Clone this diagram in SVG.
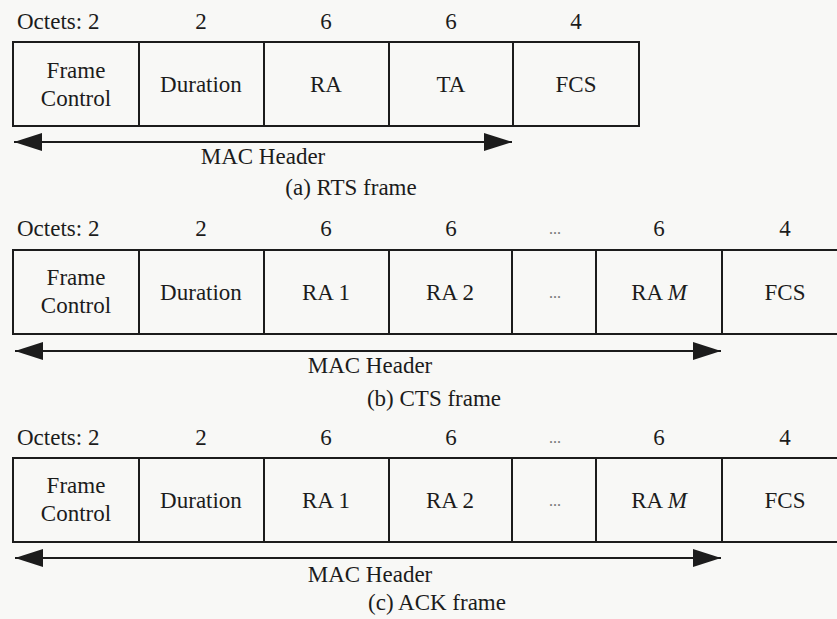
<svg xmlns="http://www.w3.org/2000/svg" width="837" height="619" viewBox="0 0 837 619">
<defs>
<style>
.bg{fill:#f8f8f6}
.cell{fill:none;stroke:#1c1c1c;stroke-width:2}
.t{font-family:'Liberation Serif','DejaVu Serif',serif;font-size:23px;fill:#1c1c1c;text-anchor:middle}
.tl{font-family:'Liberation Serif','DejaVu Serif',serif;font-size:23px;fill:#1c1c1c}
.dots{font-family:'Liberation Serif','DejaVu Serif',serif;font-size:16px;fill:#777;text-anchor:middle}
.arr{stroke:#1c1c1c;stroke-width:2;fill:none;marker-start:url(#ah);marker-end:url(#ah)}
</style>
<marker id="ah" markerUnits="userSpaceOnUse" markerWidth="30" markerHeight="20" refX="28" refY="9" orient="auto-start-reverse" viewBox="0 0 30 20">
<path d="M0,0 L28,9 L0,18 Z" fill="#1c1c1c"/>
</marker>
</defs>
<rect class="bg" x="0" y="0" width="837" height="619"/>

<!-- (a) RTS frame -->
<g id="rts">
<text class="tl" x="17" y="29">Octets: 2</text>
<text class="t" x="201" y="29">2</text>
<text class="t" x="326" y="29">6</text>
<text class="t" x="451" y="29">6</text>
<text class="t" x="576" y="29">4</text>
<g id="rts-fc"><rect class="cell" x="13" y="42" width="126" height="84"/><text class="t" x="76" y="78">Frame</text><text class="t" x="76" y="106">Control</text></g>
<g id="rts-dur"><rect class="cell" x="139" y="42" width="125" height="84"/><text class="t" x="201" y="92">Duration</text></g>
<g id="rts-ra"><rect class="cell" x="264" y="42" width="125" height="84"/><text class="t" x="326" y="92">RA</text></g>
<g id="rts-ta"><rect class="cell" x="389" y="42" width="124" height="84"/><text class="t" x="451" y="92">TA</text></g>
<g id="rts-fcs"><rect class="cell" x="513" y="42" width="126" height="84"/><text class="t" x="576" y="92">FCS</text></g>
<text class="t" x="263" y="164">MAC Header</text>
<text class="t" x="351" y="195">(a) RTS frame</text>
</g>

<!-- (b) CTS frame -->
<g id="cts">
<text class="tl" x="17" y="236">Octets: 2</text>
<text class="t" x="201" y="236">2</text>
<text class="t" x="326" y="236">6</text>
<text class="t" x="451" y="236">6</text>
<text class="dots" x="555" y="234">...</text>
<text class="t" x="659" y="236">6</text>
<text class="t" x="785" y="236">4</text>
<g id="cts-fc"><rect class="cell" x="13" y="250" width="126" height="84"/><text class="t" x="76" y="285">Frame</text><text class="t" x="76" y="313">Control</text></g>
<g id="cts-dur"><rect class="cell" x="139" y="250" width="125" height="84"/><text class="t" x="201" y="300">Duration</text></g>
<g id="cts-ra1"><rect class="cell" x="264" y="250" width="125" height="84"/><text class="t" x="326" y="300">RA 1</text></g>
<g id="cts-ra2"><rect class="cell" x="389" y="250" width="123" height="84"/><text class="t" x="450" y="300">RA 2</text></g>
<g id="cts-dots"><rect class="cell" x="512" y="250" width="84" height="84"/><text class="dots" x="555" y="298">...</text></g>
<g id="cts-ram"><rect class="cell" x="596" y="250" width="126" height="84"/><text class="t" x="659" y="300">RA <tspan font-style="italic">M</tspan></text></g>
<g id="cts-fcs"><rect class="cell" x="722" y="250" width="130" height="84"/><text class="t" x="785" y="300">FCS</text></g>
<text class="t" x="370" y="373">MAC Header</text>
<text class="t" x="434" y="406">(b) CTS frame</text>
</g>

<!-- (c) ACK frame -->
<g id="ack">
<text class="tl" x="17" y="445">Octets: 2</text>
<text class="t" x="201" y="445">2</text>
<text class="t" x="326" y="445">6</text>
<text class="t" x="451" y="445">6</text>
<text class="dots" x="555" y="443">...</text>
<text class="t" x="659" y="445">6</text>
<text class="t" x="785" y="445">4</text>
<g id="ack-fc"><rect class="cell" x="13" y="458" width="126" height="84"/><text class="t" x="76" y="493">Frame</text><text class="t" x="76" y="521">Control</text></g>
<g id="ack-dur"><rect class="cell" x="139" y="458" width="125" height="84"/><text class="t" x="201" y="508">Duration</text></g>
<g id="ack-ra1"><rect class="cell" x="264" y="458" width="125" height="84"/><text class="t" x="326" y="508">RA 1</text></g>
<g id="ack-ra2"><rect class="cell" x="389" y="458" width="123" height="84"/><text class="t" x="450" y="508">RA 2</text></g>
<g id="ack-dots"><rect class="cell" x="512" y="458" width="84" height="84"/><text class="dots" x="555" y="506">...</text></g>
<g id="ack-ram"><rect class="cell" x="596" y="458" width="126" height="84"/><text class="t" x="659" y="508">RA <tspan font-style="italic">M</tspan></text></g>
<g id="ack-fcs"><rect class="cell" x="722" y="458" width="130" height="84"/><text class="t" x="785" y="508">FCS</text></g>
<text class="t" x="370" y="582">MAC Header</text>
<text class="t" x="437" y="610">(c) ACK frame</text>
</g>

<g id="connectors">
<line class="arr" x1="14" y1="142" x2="512" y2="142"/>
<line class="arr" x1="15" y1="351" x2="721" y2="351"/>
<line class="arr" x1="15" y1="558" x2="721" y2="558"/>
</g>
</svg>
